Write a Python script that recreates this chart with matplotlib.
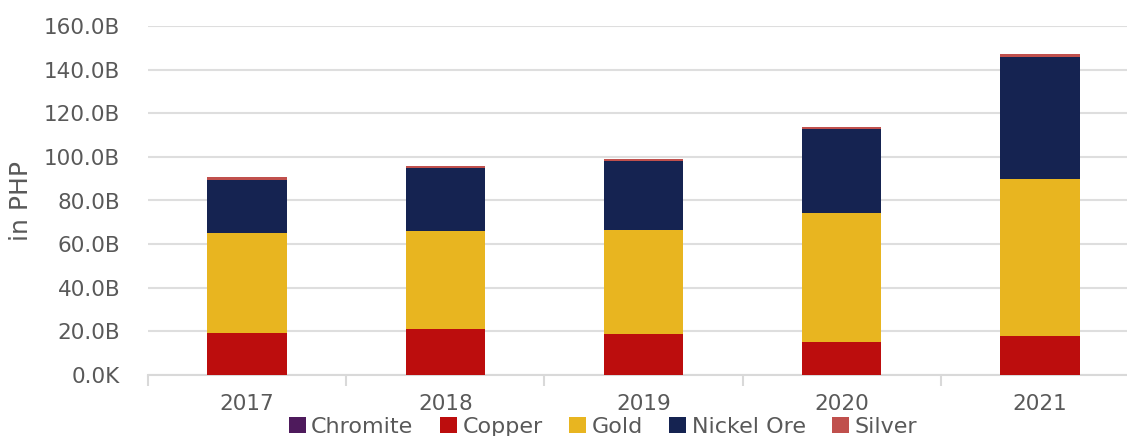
import numpy as np
import matplotlib
matplotlib.use("Agg")
import matplotlib.pyplot as plt
from matplotlib.ticker import FuncFormatter

# ---- data (billions of PHP) ----
years = ["2017", "2018", "2019", "2020", "2021"]
chromite = [0.1, 0.1, 0.1, 0.1, 0.1]
copper = [19.3, 21.1, 18.7, 15.1, 17.6]
gold = [45.9, 44.8, 47.5, 59.2, 72.0]
nickel = [24.2, 28.7, 31.6, 38.2, 56.3]
silver = [1.4, 1.2, 0.9, 0.9, 1.1]

series = [("Chromite", chromite, "#4E1A5C"),
          ("Copper", copper, "#BC0D0D"),
          ("Gold", gold, "#E8B520"),
          ("Nickel Ore", nickel, "#152351"),
          ("Silver", silver, "#C0504D")]

txt = "#595959"
plt.rcParams['font.family'] = ['DejaVu Sans']

fig = plt.figure(figsize=(11.27, 4.36), dpi=100)
ax = fig.add_axes([148 / 1127, 61 / 436, 979 / 1127, 349 / 436])

x = np.arange(len(years))
bottom = np.zeros(len(years))
for name, vals, col in series:
    ax.bar(x, vals, 0.4, bottom=bottom, color=col, label=name, zorder=3)
    bottom += np.array(vals)

ax.set_ylim(0, 160)
ax.set_yticks(np.arange(0, 161, 20))
ax.yaxis.set_major_formatter(FuncFormatter(lambda v, p: "0.0K" if v == 0 else f"{v:.1f}B"))
ax.set_xlim(-0.5, 4.5 - 12 / 198)
ax.set_xticks(x)
ax.set_xticklabels(years)
ax.set_xticks(np.arange(-0.5, 4.5, 1), minor=True)

ax.grid(axis="y", color="#dedede", linewidth=1.5, zorder=0)
for s in ["top", "right", "left"]:
    ax.spines[s].set_visible(False)
ax.spines["bottom"].set_color("#d9d9d9")
ax.spines["bottom"].set_linewidth(1.5)
ax.tick_params(axis="y", length=0, labelsize=15.5, labelcolor=txt, pad=20)
ax.tick_params(axis="x", which="major", length=0, labelsize=15.5, labelcolor=txt, pad=14)
ax.tick_params(axis="x", which="minor", length=8, width=1.5, color="#d9d9d9")

ax.set_ylabel("in PHP", fontsize=18, color=txt, labelpad=8)

leg = fig.legend(loc="center", bbox_to_anchor=(603 / 1127, 1 - 427 / 436), ncol=5,
                 frameon=False, fontsize=16, handlelength=0.75, handleheight=0.75,
                 handletextpad=0.25, columnspacing=1.2, borderpad=0)
for t in leg.get_texts():
    t.set_color(txt)

fig.savefig("out.png", dpi=100)
